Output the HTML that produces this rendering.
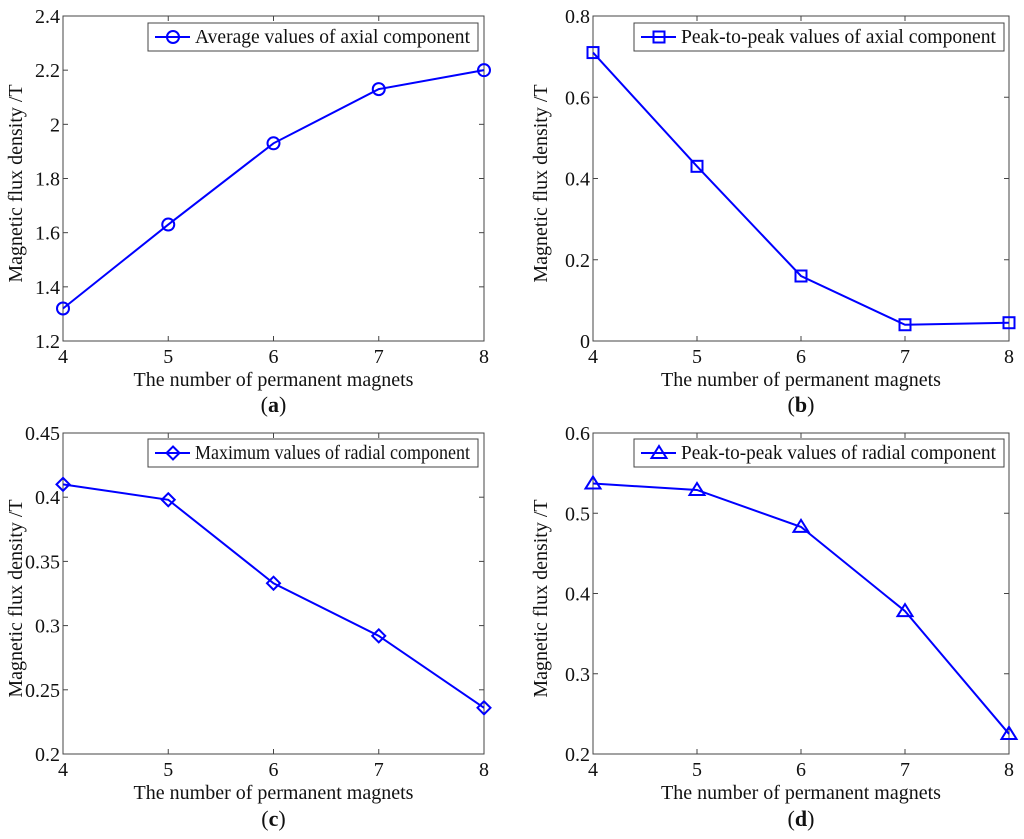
<!DOCTYPE html>
<html><head><meta charset="utf-8">
<style>
body{margin:0;background:#fff;}
svg{display:block;font-family:"Liberation Serif",serif;}
</style></head>
<body>
<svg id="fig" width="1024" height="839" viewBox="0 0 1024 839"></svg>
<script>
const xCats = [4, 5, 6, 7, 8];
const seriesA = [1.32, 1.63, 1.93, 2.13, 2.2];
const seriesB = [0.71, 0.43, 0.16, 0.04, 0.045];
const seriesC = [0.41, 0.398, 0.333, 0.292, 0.236];
const seriesD = [0.537, 0.529, 0.483, 0.378, 0.225];
const ticksA = ["1.2","1.4","1.6","1.8","2","2.2","2.4"];
const ticksB = ["0","0.2","0.4","0.6","0.8"];
const ticksC = ["0.2","0.25","0.3","0.35","0.4","0.45"];
const ticksD = ["0.2","0.3","0.4","0.5","0.6"];
const labelA = "Average values of axial component";
const labelB = "Peak-to-peak values of axial component";
const labelC = "Maximum values of radial component";
const labelD = "Peak-to-peak values of radial component";

const NS = "http://www.w3.org/2000/svg";
const svg = document.getElementById('fig');
function mk(tag, attrs, parent, text){
  const e = document.createElementNS(NS, tag);
  for (const k in attrs) e.setAttribute(k, attrs[k]);
  if (text !== undefined) e.textContent = text;
  parent.appendChild(e); return e;
}
function marker(g, kind, x, y){
  const st = {fill:'none', stroke:'#0000ff', 'stroke-width':2};
  let m;
  if (kind==='circle') m = mk('circle', Object.assign({cx:x, cy:y, r:6}, st), g);
  else if (kind==='square') m = mk('rect', Object.assign({x:x-5.5, y:y-5.5, width:11, height:11}, st), g);
  else if (kind==='diamond') m = mk('polygon', Object.assign({points:`${x},${y-6.5} ${x+6.5},${y} ${x},${y+6.5} ${x-6.5},${y}`}, st), g);
  else m = mk('polygon', Object.assign({points:`${x},${y-7} ${x+7.5},${y+5} ${x-7.5},${y+5}`}, st), g);
  
  
}
const panels = [
  {id:'a', data:seriesA, ticks:ticksA, label:labelA, mk:'circle', x0:63, x1:484, y0:16, y1:341, lg:[148,23,478,51], ytx:22, sub:412},
  {id:'b', data:seriesB, ticks:ticksB, label:labelB, mk:'square', x0:593, x1:1009, y0:16, y1:341, lg:[634,23,1004,51], ytx:547, sub:412},
  {id:'c', data:seriesC, ticks:ticksC, label:labelC, mk:'diamond', x0:63, x1:484, y0:433, y1:754, lg:[148,439,478,467], ytx:22, sub:826},
  {id:'d', data:seriesD, ticks:ticksD, label:labelD, mk:'triangle', x0:593, x1:1009, y0:433, y1:754, lg:[634,439,1004,467], ytx:547, sub:826}
];
panels.forEach(p=>{
  const g = mk('g', {}, svg);
  
  
  const tv = p.ticks.map(Number);
  const ymin = tv[0], ymax = tv[tv.length-1];
  const xs = v => p.x0 + (v - xCats[0]) / (xCats[xCats.length-1] - xCats[0]) * (p.x1 - p.x0);
  const ys = v => p.y1 - (v - ymin) / (ymax - ymin) * (p.y1 - p.y0);
  const frame = mk('rect', {x:p.x0, y:p.y0, width:p.x1-p.x0, height:p.y1-p.y0, fill:'#fff', stroke:'#444', 'stroke-width':1}, g);
  
  
  p.ticks.forEach(t=>{
    const y = ys(Number(t));
    mk('line', {x1:p.x0, x2:p.x0+5, y1:y, y2:y, stroke:'#444'}, g);
    mk('line', {x1:p.x1, x2:p.x1-5, y1:y, y2:y, stroke:'#444'}, g);
    const tl = mk('text', {x:p.x0-3, y:y+7, 'text-anchor':'end', 'font-size':20, fill:'#111'}, g, t);
    
    
  });
  xCats.forEach(c=>{
    const x = xs(c);
    mk('line', {x1:x, x2:x, y1:p.y1, y2:p.y1-5, stroke:'#444'}, g);
    mk('line', {x1:x, x2:x, y1:p.y0, y2:p.y0+5, stroke:'#444'}, g);
    const tl = mk('text', {x:x, y:p.y1+22, 'text-anchor':'middle', 'font-size':20, fill:'#111'}, g, String(c));
    
    
  });
  const pts = p.data.map((v,i)=>`${xs(xCats[i])},${ys(v)}`).join(' ');
  const line = mk('polyline', {points:pts, fill:'none', stroke:'#0000ff', 'stroke-width':2}, g);
  
  
  p.data.forEach((v,i)=>marker(g, p.mk, xs(xCats[i]), ys(v)));
  const [lx0, ly0, lx1, ly1] = p.lg;
  const lg = mk('g', {}, g);
  
  
  mk('rect', {x:lx0, y:ly0, width:lx1-lx0, height:ly1-ly0, fill:'#fff', stroke:'#444'}, lg);
  const my = (ly0+ly1)/2;
  mk('line', {x1:lx0+7, x2:lx0+42, y1:my, y2:my, stroke:'#0000ff', 'stroke-width':2}, lg);
  marker(lg, p.mk, lx0+25, my);
  const lt = mk('text', {x:lx0+47, y:my+6, 'font-size':19.5, fill:'#111', textLength:lx1-lx0-55, lengthAdjust:'spacingAndGlyphs'}, lg, p.label);
  
  
  const xt = mk('text', {x:(p.x0+p.x1)/2, y:p.y1+45, 'text-anchor':'middle', 'font-size':20, fill:'#111'}, g, 'The number of permanent magnets');
  
  
  const cy = (p.y0+p.y1)/2 + 5;
  const yt = mk('text', {x:p.ytx, y:cy, 'text-anchor':'middle', 'font-size':20, fill:'#111', transform:`rotate(-90 ${p.ytx} ${cy})`}, g, 'Magnetic flux density /T');
  
  
  const st = mk('text', {x:(p.x0+p.x1)/2, y:p.sub, 'text-anchor':'middle', 'font-size':22, fill:'#111'}, g);
  
  
  mk('tspan', {}, st, '(');
  mk('tspan', {'font-weight':'bold'}, st, p.id);
  mk('tspan', {}, st, ')');
});
</script>
</body></html>
